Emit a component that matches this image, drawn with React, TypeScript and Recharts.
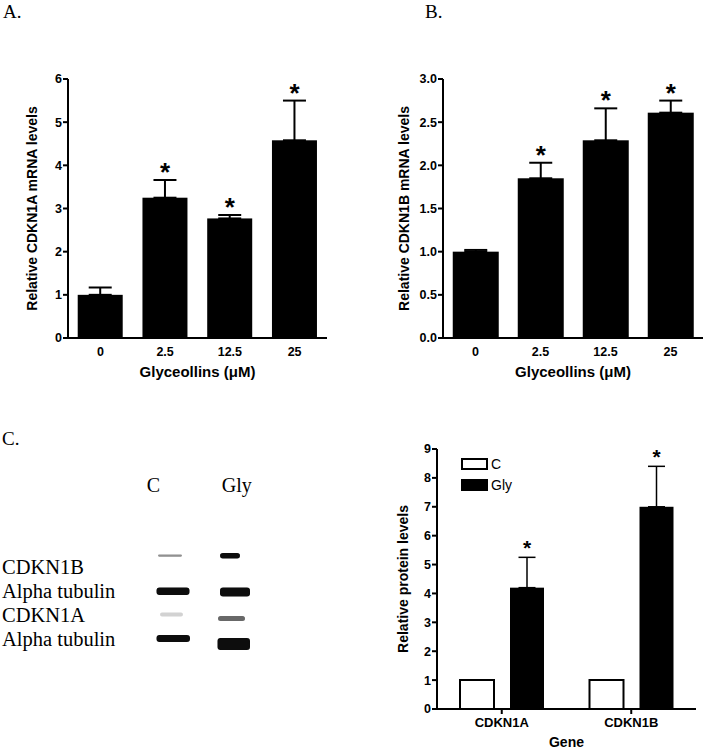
import { BarChart, Bar, XAxis, YAxis, ErrorBar, Legend } from "recharts";

// panel A / B: mRNA after glyceollin treatment
const doses = ["0", "2.5", "12.5", "25"];
const cdkn1aMrna = [1.0, 3.25, 2.77, 4.58];
const cdkn1aMrnaSem = [0.17, 0.41, 0.08, 0.92];
const cdkn1bMrna = [1.0, 1.85, 2.29, 2.61];
const cdkn1bMrnaSem = [0.02, 0.18, 0.37, 0.14];
const mrnaSignificant = [false, true, true, true];

// panel C: protein
const genes = ["CDKN1A", "CDKN1B"];
const proteinControl = [1, 1];
const proteinGly = [4.2, 7.0];
const proteinGlySem = [1.05, 1.4];
const proteinSignificant = [true, true];

const ticksA = [0, 1, 2, 3, 4, 5, 6];
const ticksB = [0, 0.5, 1, 1.5, 2, 2.5, 3];
const ticksC = [0, 1, 2, 3, 4, 5, 6, 7, 8, 9];

// western blot (rows x lanes), band darkness
const blotLanes = ["C", "Gly"];
const blotRows = ["CDKN1B", "Alpha tubulin", "CDKN1A", "Alpha tubulin"];
const blotIntensity = [
  [0.45, 1],
  [1, 1],
  [0.18, 0.62],
  [1, 1],
];

const SANS = "'Liberation Sans', Arial, sans-serif";
const SERIF = "'Liberation Serif', 'Times New Roman', serif";

const axisLine = { stroke: "#000", strokeWidth: 2 };
const tickLine = { stroke: "#000", strokeWidth: 2 };
const tickFont = { fill: "#000", fontSize: 12.5, fontWeight: "bold", fontFamily: SANS };
const labelFont = { fill: "#000", fontWeight: "bold", fontFamily: SANS };

// bar with significance star above its error cap
function starredBar(key: string, fontSize: number, lift: number) {
  return (props: any) => {
    const { x, y, width, height, fill, payload } = props;
    const perUnit = height / payload[key];
    const capY = y - payload.sem * perUnit;
    return (
      <g>
        <rect x={x} y={y} width={width} height={height} fill={fill} />
        {payload.sig && (
          <text
            x={x + width / 2}
            y={capY + lift}
            textAnchor="middle"
            fontSize={fontSize}
            fontWeight="bold"
            fontFamily={SANS}
            fill="#000"
          >
            *
          </text>
        )}
      </g>
    );
  };
}

function MrnaChart({
  values,
  sems,
  ticks,
  decimals,
  yLabel,
  left,
  marginLeft,
  marginRight,
  labelOffset,
}: any) {
  const data = doses.map((d, i) => ({
    dose: d,
    value: values[i],
    sem: sems[i],
    sig: mrnaSignificant[i],
  }));
  return (
    <div style={{ position: "absolute", left, top: 0 }}>
      <BarChart
        width={353}
        height={380}
        data={data}
        margin={{ top: 79, right: marginRight, left: marginLeft, bottom: 2 }}
        barCategoryGap="15%"
      >
        <XAxis
          dataKey="dose"
          height={40}
          interval={0}
          tickLine={false}
          tickSize={5}
          tickMargin={4}
          axisLine={axisLine}
          tick={tickFont}
          label={{
            value: "Glyceollins (μM)",
            position: "insideBottom",
            offset: 1,
            fontSize: 15,
            ...labelFont,
          }}
        />
        <YAxis
          domain={[0, ticks[ticks.length - 1]]}
          ticks={ticks}
          interval={0}
          width={40}
          tickSize={5}
          tickMargin={1}
          axisLine={axisLine}
          tickLine={tickLine}
          tick={tickFont}
          tickFormatter={(v: number) => v.toFixed(decimals)}
          label={{
            value: yLabel,
            angle: -90,
            position: "insideLeft",
            offset: labelOffset,
            fontSize: 14,
            ...labelFont,
            style: { textAnchor: "middle" },
          }}
        />
        <Bar dataKey="value" fill="#000" isAnimationActive={false} shape={starredBar("value", 26, 1)}>
          <ErrorBar
            dataKey={(d: any) => [0, d.sem]}
            width={11.5}
            strokeWidth={2}
            stroke="#000"
            direction="y"
            isAnimationActive={false}
          />
        </Bar>
      </BarChart>
    </div>
  );
}

function ProteinLegend({ payload }: any) {
  return (
    <div style={{ fontFamily: SANS, fontSize: 14, color: "#000" }}>
      {(payload || []).map((entry: any) => (
        <div key={entry.value} style={{ display: "flex", alignItems: "center", height: 21 }}>
          <div
            style={{
              width: 27,
              height: 12,
              boxSizing: "border-box",
              border: "2px solid #000",
              background: entry.color,
            }}
          />
          <span style={{ marginLeft: 3, lineHeight: 1 }}>{entry.value}</span>
        </div>
      ))}
    </div>
  );
}

function ProteinChart() {
  const data = genes.map((g, i) => ({
    gene: g,
    control: proteinControl[i],
    gly: proteinGly[i],
    sem: proteinGlySem[i],
    sig: proteinSignificant[i],
  }));
  return (
    <div style={{ position: "absolute", left: 353, top: 380 }}>
      <BarChart
        width={353}
        height={370}
        data={data}
        margin={{ top: 69, right: 10, left: 44, bottom: 3 }}
        barCategoryGap={23}
        barGap={16}
      >
        <XAxis
          dataKey="gene"
          height={38}
          interval={0}
          tickSize={5}
          tickMargin={4}
          axisLine={axisLine}
          tickLine={tickLine}
          tick={{ ...tickFont, fontSize: 13 }}
          label={{ value: "Gene", position: "insideBottom", offset: 0, fontSize: 14, ...labelFont }}
        />
        <YAxis
          domain={[0, 9]}
          ticks={ticksC}
          interval={0}
          width={40}
          tickSize={5}
          tickMargin={1}
          axisLine={axisLine}
          tickLine={tickLine}
          tick={tickFont}
          label={{
            value: "Relative protein levels",
            angle: -90,
            position: "insideLeft",
            offset: 6,
            fontSize: 14,
            ...labelFont,
            style: { textAnchor: "middle" },
          }}
        />
        <Legend
          layout="vertical"
          align="center"
          verticalAlign="middle"
          wrapperStyle={{ left: 108, top: 73, width: 80, height: 42 }}
          content={ProteinLegend}
        />
        <Bar
          dataKey="control"
          name="C"
          fill="#fff"
          stroke="#000"
          strokeWidth={2}
          isAnimationActive={false}
        />
        <Bar dataKey="gly" name="Gly" fill="#000" isAnimationActive={false} shape={starredBar("gly", 21, -2)}>
          <ErrorBar
            dataKey={(d: any) => [0, d.sem]}
            width={8.5}
            strokeWidth={1.5}
            stroke="#000"
            direction="y"
            isAnimationActive={false}
          />
        </Bar>
      </BarChart>
    </div>
  );
}

// band boxes for the blot picture, [row][lane]
const bandBoxes = [
  [{ x: 158, w: 24, y: 554.5, h: 2.2 }, { x: 220, w: 20, y: 553, h: 5.5 }],
  [{ x: 156.5, w: 33, y: 587.5, h: 7.5 }, { x: 220, w: 30, y: 587.5, h: 9 }],
  [{ x: 160, w: 23, y: 612.5, h: 4 }, { x: 218, w: 27, y: 616, h: 5 }],
  [{ x: 156.5, w: 33.5, y: 635, h: 7 }, { x: 217.5, w: 32.5, y: 638, h: 12 }],
];
const rowBaselines = [574, 598.3, 622, 645.7];
const laneLabelX = [146.7, 221.7];

function Decorations() {
  return (
    <svg width={706} height={750} style={{ position: "absolute", left: 0, top: 0 }}>
      <defs>
        <filter id="blur" x="-20%" y="-100%" width="140%" height="300%">
          <feGaussianBlur stdDeviation="0.5" />
        </filter>
      </defs>
      <g fontFamily={SERIF} fill="#000">
        <text x={3} y={18} fontSize={19}>A.</text>
        <text x={425} y={18} fontSize={19}>B.</text>
        <text x={2} y={445} fontSize={19}>C.</text>
        {blotLanes.map((lane, j) => (
          <text key={lane} x={laneLabelX[j]} y={491.7} fontSize={20}>
            {lane}
          </text>
        ))}
        {blotRows.map((row, i) => (
          <text key={i} x={2} y={rowBaselines[i]} fontSize={20.5}>
            {row}
          </text>
        ))}
      </g>
      {blotIntensity.map((row, i) =>
        row.map((v, j) => {
          const b = bandBoxes[i][j];
          return (
            <rect
              key={`${i}-${j}`}
              x={b.x}
              y={b.y}
              width={b.w}
              height={b.h}
              rx={Math.min(3, b.h / 2)}
              fill="#080808"
              opacity={v}
              filter="url(#blur)"
            />
          );
        })
      )}
    </svg>
  );
}

export default function App() {
  return (
    <div style={{ position: "absolute", left: 0, top: 0, width: 706, height: 750, background: "#fff" }}>
      <Decorations />
      <MrnaChart
        values={cdkn1aMrna}
        sems={cdkn1aMrnaSem}
        ticks={ticksA}
        decimals={0}
        yLabel="Relative CDKN1A mRNA levels"
        left={0}
        marginLeft={28}
        marginRight={26}
        labelOffset={4}
      />
      <MrnaChart
        values={cdkn1bMrna}
        sems={cdkn1bMrnaSem}
        ticks={ticksB}
        decimals={1}
        yLabel="Relative CDKN1B mRNA levels"
        left={353}
        marginLeft={50}
        marginRight={3}
        labelOffset={1}
      />
      <ProteinChart />
    </div>
  );
}
